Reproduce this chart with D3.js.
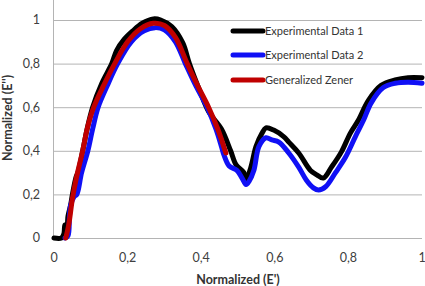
<!DOCTYPE html>
<html>
<head>
<meta charset="utf-8">
<script src="https://cdn.jsdelivr.net/npm/d3@7"></script>
<style>
  body { margin: 0; background: #fff; }
  svg { display: block; }
</style>
</head>
<body>
<div id="chart"></div>
<script>
// Chart size and plot area
const width = 425;
const height = 286;
const margin = { top: 0, right: 2, bottom: 48, left: 54 };

// Axis ticks
const xTicks = [0, 0.2, 0.4, 0.6, 0.8, 1];
const yTicks = [0, 0.2, 0.4, 0.6, 0.8, 1];

// Series names (legend order)
const seriesNames = ["Experimental Data 1", "Experimental Data 2", "Generalized Zener"];
const seriesColors = ["#000000", "#1010f5", "#c00000"];

// Experimental Data 1 (normalized E', normalized E'')
const exp1X = [0, 0.02, 0.027, 0.03, 0.035, 0.038, 0.045, 0.05, 0.06, 0.065, 0.078, 0.09, 0.105, 0.13, 0.157, 0.17, 0.19, 0.214, 0.24, 0.27, 0.29, 0.32, 0.35, 0.368, 0.395, 0.42, 0.455, 0.48, 0.495, 0.516, 0.522, 0.535, 0.549, 0.565, 0.576, 0.597, 0.624, 0.638, 0.665, 0.697, 0.714, 0.732, 0.754, 0.781, 0.805, 0.827, 0.854, 0.889, 0.927, 0.962, 1.0];
const exp1Y = [0, 0.0, 0.02, 0.06, 0.06, 0.1, 0.15, 0.2, 0.28, 0.3, 0.4, 0.5, 0.6, 0.71, 0.8, 0.86, 0.91, 0.95, 0.985, 1.005, 1.0, 0.97, 0.895, 0.8, 0.68, 0.58, 0.5, 0.4, 0.335, 0.3, 0.265, 0.325, 0.42, 0.48, 0.505, 0.495, 0.465, 0.44, 0.39, 0.31, 0.29, 0.275, 0.325, 0.395, 0.48, 0.54, 0.63, 0.7, 0.725, 0.735, 0.735];

// Experimental Data 2
const exp2X = [0.03, 0.038, 0.042, 0.045, 0.055, 0.062, 0.075, 0.092, 0.105, 0.12, 0.145, 0.173, 0.21, 0.245, 0.275, 0.3, 0.33, 0.357, 0.385, 0.416, 0.44, 0.455, 0.462, 0.476, 0.497, 0.511, 0.522, 0.53, 0.543, 0.557, 0.576, 0.592, 0.611, 0.638, 0.665, 0.686, 0.705, 0.719, 0.738, 0.765, 0.792, 0.819, 0.841, 0.862, 0.895, 0.927, 0.962, 1.0];
const exp2Y = [0, 0.01, 0.1, 0.15, 0.19, 0.2, 0.3, 0.4, 0.5, 0.6, 0.7, 0.8, 0.9, 0.95, 0.965, 0.955, 0.9, 0.8, 0.7, 0.6, 0.5, 0.42, 0.38, 0.33, 0.31, 0.275, 0.245, 0.26, 0.31, 0.42, 0.46, 0.45, 0.44, 0.39, 0.325, 0.265, 0.23, 0.22, 0.235, 0.3, 0.37, 0.465, 0.54, 0.62, 0.69, 0.71, 0.715, 0.71];

// Generalized Zener fit
const zenerX = [0.032, 0.04, 0.05, 0.06, 0.078, 0.09, 0.108, 0.135, 0.165, 0.2, 0.235, 0.27, 0.3, 0.33, 0.362, 0.39, 0.42, 0.445, 0.467];
const zenerY = [0, 0.06, 0.18, 0.27, 0.4, 0.5, 0.6, 0.7, 0.8, 0.9, 0.96, 0.985, 0.975, 0.92, 0.8, 0.7, 0.6, 0.5, 0.39];

const svg = d3.select("#chart")
    .append("svg")
    .attr("width", width)
    .attr("height", height);

const x = d3.scaleLinear()
    .domain([0, 1])
    .range([margin.left, width - margin.right - 1]);

const y = d3.scaleLinear()
    .domain([0, 1])
    .range([238, 20]);

// Horizontal gridlines
svg.append("g")
    .selectAll("line")
    .data(yTicks)
    .join("line")
    .attr("x1", x(0))
    .attr("x2", x(1))
    .attr("y1", d => y(d) + 0.5)
    .attr("y2", d => y(d) + 0.5)
    .attr("stroke", "#b4b4b4")
    .attr("stroke-width", 1);

// Left axis line
svg.append("line")
    .attr("x1", x(0) - 0.5)
    .attr("x2", x(0) - 0.5)
    .attr("y1", 0)
    .attr("y2", y(0) + 0.5)
    .attr("stroke", "#b4b4b4");

const fmt = d => d3.format("~g")(d).replace(".", ",");

// Y tick labels
svg.append("g")
    .selectAll("text")
    .data(yTicks)
    .join("text")
    .attr("x", 40)
    .attr("y", d => y(d))
    .attr("dy", "0.35em")
    .attr("text-anchor", "end")
    .attr("font-family", "Lato, 'Open Sans', sans-serif")
    .attr("font-size", "12.5px")
    .attr("fill", "#404040")
    .text(fmt);

// X tick labels
svg.append("g")
    .selectAll("text")
    .data(xTicks)
    .join("text")
    .attr("x", d => x(d))
    .attr("y", 262)
    .attr("text-anchor", "middle")
    .attr("font-family", "Lato, 'Open Sans', sans-serif")
    .attr("font-size", "12.5px")
    .attr("fill", "#404040")
    .text(fmt);

// Axis titles
svg.append("text")
    .attr("x", 238)
    .attr("y", 284)
    .attr("text-anchor", "middle")
    .attr("font-family", "Lato, 'Open Sans', sans-serif")
    .attr("font-size", "12.5px")
    .attr("font-weight", "bold")
    .attr("fill", "#333")
    .text("Normalized (E')");

svg.append("text")
    .attr("transform", "translate(12,118) rotate(-90)")
    .attr("text-anchor", "middle")
    .attr("font-family", "Lato, 'Open Sans', sans-serif")
    .attr("font-size", "12.5px")
    .attr("font-weight", "bold")
    .attr("fill", "#333")
    .text("Normalized (E'')");

// Lines
const line = d3.line()
    .x(d => x(d[0]))
    .y(d => y(d[1]))
    .curve(d3.curveCatmullRom.alpha(0.5));

const series = [
    d3.zip(exp1X, exp1Y),
    d3.zip(exp2X, exp2Y),
    d3.zip(zenerX, zenerY)
];

series.forEach((pts, i) => {
    svg.append("path")
        .attr("d", line(pts))
        .attr("fill", "none")
        .attr("stroke", seriesColors[i])
        .attr("stroke-width", 5)
        .attr("stroke-linejoin", "round")
        .attr("stroke-linecap", "round");
});

// Legend
const legend = svg.append("g");
const legendY = [31, 55, 80];
seriesNames.forEach((name, i) => {
    legend.append("line")
        .attr("x1", 233)
        .attr("x2", 263)
        .attr("y1", legendY[i])
        .attr("y2", legendY[i])
        .attr("stroke", seriesColors[i])
        .attr("stroke-width", 5)
        .attr("stroke-linecap", "round");
    legend.append("text")
        .attr("x", 265)
        .attr("y", legendY[i])
        .attr("dy", "0.35em")
        .attr("font-family", "Lato, 'Open Sans', sans-serif")
        .attr("font-size", "11px")
        .attr("fill", "#333")
        .text(name);
});
</script>
</body>
</html>
